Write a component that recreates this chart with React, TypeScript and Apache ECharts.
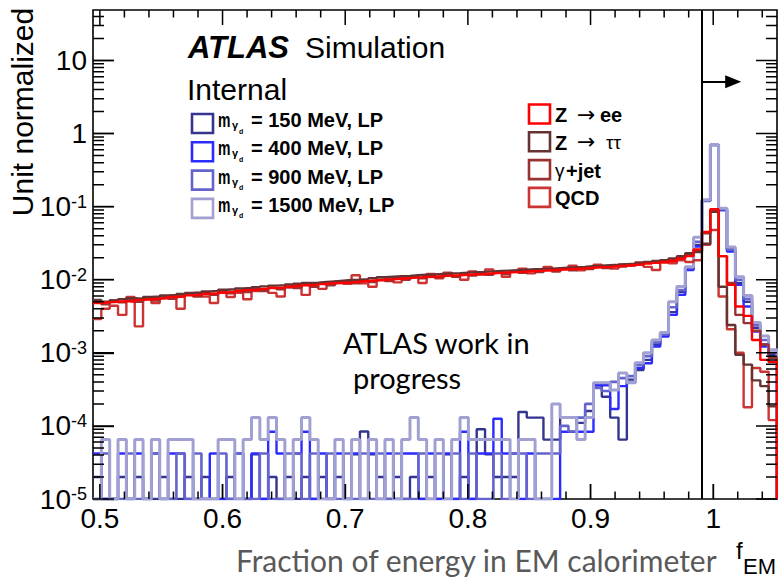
import React, { useEffect, useRef } from "react";
import * as echarts from "echarts";

// ---- axis / binning ----
const X_MIN = 0.4944;
const BIN_WIDTH = 0.0068;
const X_MAX = 1.052;
const Y_MIN = 1e-5;
const Y_MAX = 49;
const CUT = 0.9908;

const xTickLabels = [0.5, 0.6, 0.7, 0.8, 0.9, 1.0];
const yTickLabels = [1e-5, 1e-4, 1e-3, 1e-2, 1e-1, 1, 10];

// ---- signal: m_gamma_d = 150 MeV (dark blue) ----
const sig150 = [
  2.0e-5, 0, 0, 2.0e-5, 0, 2.0e-5, 0, 0, 2.0e-5, 0,
  0, 2.0e-5, 0, 2.0e-5, 0, 0, 2.0e-5, 0, 0, 4.1e-5,
  0, 2.0e-5, 0, 2.0e-5, 0, 2.0e-5, 0, 2.0e-5, 0, 2.0e-5,
  0, 4.1e-5, 8.4e-5, 4.1e-5, 2.0e-5, 0, 2.0e-5, 0, 2.0e-5, 0,
  2.0e-5, 0, 4.1e-5, 0, 2.0e-5, 0, 9.0e-5, 4.1e-5, 2.0e-5, 2.0e-5,
  2.0e-5, 1.55e-4, 1.3e-4, 1.3e-4, 6.5e-5, 6.5e-5, 1.3e-4, 1.3e-4, 1.1e-4, 1.6e-4,
  3.6e-4, 2.5e-4, 1.3e-4, 6.5e-5, 4.3e-4, 5.8e-4, 8.0e-4, 1.3e-3, 1.8e-3, 3.6e-3,
  6.8e-3, 1.4e-2, 3.0e-2, 0.12, 0.70, 0.09, 0.026, 9.0e-3, 5.0e-3, 2.2e-3,
  1.3e-3, 9.5e-4,
];

// ---- signal: 400 MeV (blue) ----
const sig400 = [
  4.2e-5, 0, 0, 4.2e-5, 0, 4.2e-5, 0, 4.2e-5, 0, 4.2e-5,
  4.2e-5, 0, 0, 0, 4.2e-5, 0, 0, 4.2e-5, 0, 4.2e-5,
  0, 8.3e-5, 4.2e-5, 0, 4.2e-5, 8.3e-5, 0, 4.2e-5, 0, 4.2e-5,
  0, 4.2e-5, 0, 4.2e-5, 0, 4.2e-5, 0, 4.2e-5, 4.2e-5, 0,
  4.2e-5, 0, 4.2e-5, 0, 8.3e-5, 0, 4.2e-5, 4.2e-5, 1.25e-4, 4.2e-5,
  4.2e-5, 0, 4.2e-5, 0, 0, 0, 8.3e-5, 8.3e-5, 8.3e-5, 8.3e-5,
  3.6e-4, 3.6e-4, 1.7e-4, 3.5e-4, 3.9e-4, 6.2e-4, 7.2e-4, 1.22e-3, 1.67e-3, 3.3e-3,
  6.2e-3, 1.36e-2, 2.85e-2, 0.12, 0.70, 0.09, 0.0243, 8.5e-3, 4.3e-3, 1.95e-3,
  1.22e-3, 8.9e-4,
];

// ---- signal: 900 MeV (medium blue) ----
const sig900 = [
  0, 4.2e-5, 0, 0, 4.2e-5, 0, 0, 4.2e-5, 0, 0,
  4.2e-5, 0, 4.2e-5, 0, 0, 4.2e-5, 0, 4.2e-5, 0, 0,
  4.2e-5, 0, 0, 4.2e-5, 4.2e-5, 0, 4.2e-5, 0, 4.2e-5, 0,
  4.2e-5, 0, 4.2e-5, 0, 4.2e-5, 0, 4.2e-5, 0, 0, 4.2e-5,
  0, 4.2e-5, 0, 4.2e-5, 0, 4.2e-5, 0, 0, 4.2e-5, 0,
  4.2e-5, 4.2e-5, 0, 4.2e-5, 4.2e-5, 4.2e-5, 1.0e-4, 8.4e-5, 1.3e-4, 2.0e-4,
  3.3e-4, 3.0e-4, 4.0e-4, 4.5e-4, 4.8e-4, 6.8e-4, 9.0e-4, 1.4e-3, 1.8e-3, 4.2e-3,
  7.2e-3, 1.45e-2, 3.3e-2, 0.12, 0.69, 0.092, 0.026, 1.0e-2, 5.5e-3, 2.4e-3,
  1.5e-3, 1.0e-3,
];

// ---- signal: 1500 MeV (light blue) ----
const sig1500 = [
  0, 6.5e-5, 0, 6.5e-5, 0, 6.5e-5, 0, 6.5e-5, 0, 6.5e-5,
  6.5e-5, 6.5e-5, 0, 0, 0, 6.5e-5, 6.5e-5, 0, 6.5e-5, 1.3e-4,
  6.5e-5, 1.3e-4, 6.5e-5, 0, 6.5e-5, 1.3e-4, 6.5e-5, 0, 0, 6.5e-5,
  0, 6.5e-5, 0, 6.5e-5, 0, 6.5e-5, 0, 6.5e-5, 1.3e-4, 6.5e-5,
  0, 6.5e-5, 0, 6.5e-5, 1.3e-4, 6.5e-5, 6.5e-5, 6.5e-5, 6.5e-5, 6.5e-5,
  0, 6.5e-5, 6.5e-5, 0, 0, 2.0e-4, 1.3e-4, 1.3e-4, 6.5e-5, 1.3e-4,
  3.9e-4, 3.9e-4, 3.1e-4, 5.3e-4, 3.9e-4, 7.3e-4, 1.0e-3, 1.5e-3, 1.9e-3, 5.0e-3,
  8.1e-3, 1.5e-2, 3.8e-2, 0.124, 0.70, 0.095, 0.028, 0.011, 6.1e-3, 2.6e-3,
  1.7e-3, 1.1e-3,
];

// ---- backgrounds ----
const zee = [
  4.8e-3, 4.9e-3, 5.0e-3, 5.1e-3, 5.0e-3, 5.3e-3, 5.4e-3, 5.5e-3, 5.6e-3, 5.8e-3,
  5.9e-3, 6.1e-3, 6.2e-3, 6.4e-3, 6.5e-3, 6.7e-3, 6.8e-3, 7.0e-3, 7.2e-3, 7.3e-3,
  7.5e-3, 7.7e-3, 7.8e-3, 8.0e-3, 8.2e-3, 8.4e-3, 8.5e-3, 8.7e-3, 8.9e-3, 9.1e-3,
  9.2e-3, 9.4e-3, 9.6e-3, 9.8e-3, 1.0e-2, 1.01e-2, 1.03e-2, 1.05e-2, 1.07e-2, 1.09e-2,
  1.1e-2, 1.12e-2, 1.14e-2, 1.15e-2, 1.17e-2, 1.19e-2, 1.2e-2, 1.22e-2, 1.24e-2, 1.26e-2,
  1.27e-2, 1.29e-2, 1.31e-2, 1.33e-2, 1.35e-2, 1.37e-2, 1.39e-2, 1.41e-2, 1.43e-2, 1.46e-2,
  1.48e-2, 1.5e-2, 1.53e-2, 1.56e-2, 1.59e-2, 1.62e-2, 1.66e-2, 1.7e-2, 1.75e-2, 1.82e-2,
  1.95e-2, 2.1e-2, 2.6e-2, 4.5e-2, 9.2e-2, 2.1e-2, 8.5e-3, 4.3e-3, 3.2e-3, 1.5e-3,
  8.0e-4, 7.5e-4,
];

const ztautau = [
  5.3e-3, 5.0e-3, 5.2e-3, 5.4e-3, 5.6e-3, 5.5e-3, 5.8e-3, 5.9e-3, 6.1e-3, 6.2e-3,
  6.4e-3, 6.6e-3, 6.7e-3, 6.9e-3, 7.0e-3, 7.3e-3, 7.4e-3, 7.6e-3, 7.7e-3, 7.9e-3,
  8.1e-3, 8.3e-3, 8.4e-3, 8.6e-3, 8.8e-3, 9.0e-3, 9.1e-3, 9.3e-3, 9.5e-3, 9.7e-3,
  9.9e-3, 1.0e-2, 1.02e-2, 1.05e-2, 1.08e-2, 1.1e-2, 1.12e-2, 1.13e-2, 1.15e-2, 1.17e-2,
  1.18e-2, 1.2e-2, 1.22e-2, 1.23e-2, 1.25e-2, 1.27e-2, 1.28e-2, 1.3e-2, 1.32e-2, 1.33e-2,
  1.35e-2, 1.37e-2, 1.39e-2, 1.4e-2, 1.42e-2, 1.44e-2, 1.46e-2, 1.48e-2, 1.5e-2, 1.53e-2,
  1.55e-2, 1.58e-2, 1.6e-2, 1.63e-2, 1.66e-2, 1.7e-2, 1.75e-2, 1.8e-2, 1.85e-2, 1.95e-2,
  2.1e-2, 2.3e-2, 2.4e-2, 3.1e-2, 8.5e-2, 8.0e-3, 2.4e-3, 9.4e-4, 6.9e-4, 4.2e-4,
  3.5e-4, 1.86e-4,
];

const gammajet = [
  5.0e-3, 4.6e-3, 5.2e-3, 4.9e-3, 5.3e-3, 5.0e-3, 5.6e-3, 5.2e-3, 5.8e-3, 5.5e-3,
  6.0e-3, 6.3e-3, 5.9e-3, 6.6e-3, 6.2e-3, 6.9e-3, 6.5e-3, 7.1e-3, 6.8e-3, 7.4e-3,
  7.0e-3, 7.8e-3, 7.4e-3, 8.1e-3, 7.7e-3, 8.5e-3, 8.0e-3, 8.8e-3, 8.4e-3, 9.0e-3,
  9.4e-3, 8.9e-3, 9.7e-3, 9.3e-3, 1.0e-2, 9.6e-3, 1.06e-2, 1.0e-2, 1.1e-2, 1.05e-2,
  1.12e-2, 1.08e-2, 1.16e-2, 1.1e-2, 1.18e-2, 1.14e-2, 1.22e-2, 1.17e-2, 1.25e-2, 1.2e-2,
  1.28e-2, 1.24e-2, 1.32e-2, 1.27e-2, 1.36e-2, 1.3e-2, 1.4e-2, 1.35e-2, 1.44e-2, 1.4e-2,
  1.5e-2, 1.45e-2, 1.56e-2, 1.52e-2, 1.62e-2, 1.6e-2, 1.7e-2, 1.75e-2, 1.85e-2, 1.9e-2,
  2.0e-2, 2.2e-2, 2.5e-2, 4.3e-2, 8.8e-2, 2.1e-2, 9.0e-3, 3.3e-3, 2.55e-3, 2.0e-3,
  1.3e-3, 8.5e-4,
];

const qcd = [
  2.9e-3, 4.0e-3, 4.4e-3, 3.3e-3, 5.8e-3, 2.3e-3, 5.4e-3, 4.8e-3, 5.6e-3, 5.9e-3,
  4.0e-3, 6.2e-3, 6.6e-3, 5.9e-3, 4.8e-3, 6.6e-3, 5.8e-3, 6.6e-3, 5.4e-3, 7.0e-3,
  7.4e-3, 6.6e-3, 5.9e-3, 7.8e-3, 8.1e-3, 6.2e-3, 8.2e-3, 7.5e-3, 8.9e-3, 9.5e-3,
  8.8e-3, 1.15e-2, 8.9e-3, 8.0e-3, 9.8e-3, 1.05e-2, 9.2e-3, 1.1e-2, 1.12e-2, 9.0e-3,
  1.2e-2, 1.05e-2, 1.25e-2, 1.12e-2, 1.0e-2, 1.3e-2, 1.18e-2, 1.38e-2, 1.25e-2, 1.1e-2,
  1.32e-2, 1.42e-2, 1.22e-2, 1.35e-2, 1.5e-2, 1.3e-2, 1.42e-2, 1.55e-2, 1.35e-2, 1.5e-2,
  1.6e-2, 1.5e-2, 1.42e-2, 1.62e-2, 1.55e-2, 1.72e-2, 1.5e-2, 1.36e-2, 1.72e-2, 1.68e-2,
  1.85e-2, 1.75e-2, 1.85e-2, 3.0e-2, 4.8e-2, 5.9e-3, 2.1e-3, 1.0e-3, 1.8e-4, 6.2e-4,
  5.5e-4, 1.2e-4,
];

const sigLabels = ["150", "400", "900", "1500"];
const sigColors = ["#35358f", "#2b2bff", "#6464cc", "#a0a0d2"];
const bkgColors = ["#ff0000", "#663333", "#993333", "#cc3333"];

const FONT = '"Liberation Sans", Arial, Helvetica, sans-serif';
const CAL = 'Lato, "Open Sans", sans-serif';

const CHART_W = 778;
const CHART_H = 579;
const GRID = { left: 93, right: 1, top: 10, bottom: 80 };
const PX_PER_X = (CHART_W - GRID.left - GRID.right) / (X_MAX - X_MIN);
const PX_PER_DECADE = (CHART_H - GRID.top - GRID.bottom) / Math.log10(Y_MAX / Y_MIN);

function histPoints(values: number[]) {
  const pts: number[][] = [];
  for (let i = 0; i < values.length; i++) {
    pts.push([X_MIN + i * BIN_WIDTH, values[i] > 0 ? values[i] : Y_MIN]);
  }
  const last = values[values.length - 1] > 0 ? values[values.length - 1] : Y_MIN;
  pts.push([X_MIN + values.length * BIN_WIDTH, last]);
  pts.push([X_MIN + values.length * BIN_WIDTH, Y_MIN]);
  return pts;
}

function histSeries(name: string, values: number[], color: string, width: number, extra: any = {}) {
  return {
    name,
    type: "line",
    step: "end",
    data: histPoints(values),
    symbol: "none",
    showSymbol: false,
    clip: true,
    silent: true,
    lineStyle: { color, width },
    ...extra,
  };
}

// tick positions (axis furniture)
const yMinorTicks: number[] = [];
for (let e = -5; e <= 1; e++) {
  for (let m = 2; m <= 9; m++) {
    const v = m * Math.pow(10, e);
    if (v < Y_MAX) yMinorTicks.push(v);
  }
}
const xMinorTicks: number[] = [];
for (let k = 0; k <= 27; k++) {
  const v = 0.5 + k * 0.02;
  if (k % 5 !== 0 && v < X_MAX) xMinorTicks.push(v);
}

// tick marks drawn as a broken line series in data space
function tickSeriesData() {
  const d: any[] = [];
  const seg = (a: number[], b: number[]) => {
    d.push(a, b, [b[0], "-"]);
  };
  const addY = (v: number, len: number) => {
    const dx = len / PX_PER_X;
    seg([X_MIN, v], [X_MIN + dx, v]);
    seg([X_MAX - dx, v], [X_MAX, v]);
  };
  const addX = (v: number, len: number) => {
    const f = Math.pow(10, len / PX_PER_DECADE);
    seg([v, Y_MIN * 1.0001], [v, Y_MIN * f]);
    seg([v, Y_MAX / f], [v, Y_MAX * 0.9999]);
  };
  yTickLabels.forEach((v) => addY(v, 21));
  yMinorTicks.forEach((v) => addY(v, 11));
  xTickLabels.forEach((v) => addX(v, 15));
  xMinorTicks.forEach((v) => addX(v, 7.5));
  return d;
}

function legendGraphics() {
  const g: any[] = [];
  sigLabels.forEach((lab, i) => {
    const yc = 120 + i * 28.3;
    g.push({
      type: "rect",
      shape: { x: 192, y: yc - 6, width: 21, height: 19 },
      style: { fill: "rgba(0,0,0,0)", stroke: sigColors[i], lineWidth: 2.6 },
    });
    g.push({ type: "text", x: 218, y: yc, scaleX: 0.7, style: { text: "m", fontFamily: FONT, fontWeight: "bold", fontSize: 20, fill: "#000", verticalAlign: "middle" } });
    g.push({ type: "text", x: 232, y: yc + 5, style: { text: "\u03b3", fontFamily: FONT, fontWeight: "bold", fontSize: 11, fill: "#000", verticalAlign: "middle" } });
    g.push({ type: "text", x: 239, y: yc + 11, style: { text: "d", fontFamily: FONT, fontWeight: "bold", fontSize: 7, fill: "#000", verticalAlign: "middle" } });
    g.push({ type: "text", x: 251, y: yc, style: { text: "= " + lab + " MeV, LP", fontFamily: FONT, fontWeight: "bold", fontSize: 20, fill: "#000", verticalAlign: "middle" } });
  });
  const rows: any[] = [
    [["Z", 555, "b"], ["\u2192", 577, "a"], ["ee", 600, "b"]],
    [["Z", 555, "b"], ["\u2192", 577, "a"], ["\u03c4\u03c4", 606, "g"]],
    [["\u03b3", 555, "g"], ["+jet", 566, "b"]],
    [["QCD", 555, "b"]],
  ];
  rows.forEach((parts: any[], i: number) => {
    const yc = 115 + i * 27.8;
    g.push({
      type: "rect",
      shape: { x: 529, y: yc - 10.5, width: 21, height: 19 },
      style: { fill: "rgba(0,0,0,0)", stroke: bkgColors[i], lineWidth: 2.6 },
    });
    parts.forEach((p: any[]) => {
      const kind = p[2];
      g.push({
        type: "text",
        x: p[1],
        y: kind === "a" ? yc - 1 : yc,
        style: {
          text: p[0],
          fontFamily: kind === "a" ? '"DejaVu Sans", sans-serif' : FONT,
          fontWeight: kind === "b" ? "bold" : "normal",
          fontSize: kind === "b" ? 20 : kind === "a" ? 22 : 19,
          fill: "#000",
          verticalAlign: "middle",
        },
      });
    });
  });
  return g;
}

function baseGraphics() {
  return [
    { type: "text", x: 188, y: 47, style: { text: "ATLAS", fontFamily: FONT, fontWeight: "bold", fontStyle: "italic", fontSize: 31, fill: "#000", verticalAlign: "middle" } },
    { type: "text", x: 305, y: 47, style: { text: "Simulation", fontFamily: FONT, fontSize: 30, fill: "#000", verticalAlign: "middle" } },
    { type: "text", x: 187, y: 89, style: { text: "Internal", fontFamily: FONT, fontSize: 30, fill: "#000", verticalAlign: "middle" } },
    ...legendGraphics(),
    { type: "text", x: 343, y: 342, style: { text: "ATLAS work in", fontFamily: CAL, fontSize: 29, fill: "#000", verticalAlign: "middle" } },
    { type: "text", x: 353, y: 377, style: { text: "progress", fontFamily: CAL, fontSize: 29, fill: "#000", verticalAlign: "middle" } },
    { type: "text", x: 236, y: 560, style: { text: "Fraction of energy in EM calorimeter", fontFamily: CAL, fontSize: 30, fill: "#595959", verticalAlign: "middle" } },
    { type: "text", x: 736, y: 550, style: { text: "f", fontFamily: FONT, fontSize: 24, fill: "#000", verticalAlign: "middle" } },
    { type: "text", x: 743, y: 566, style: { text: "EM", fontFamily: FONT, fontSize: 22, fill: "#000", verticalAlign: "middle" } },
    { type: "text", x: 22, y: 112, rotation: Math.PI / 2, style: { text: "Unit normalized", fontFamily: FONT, fontSize: 30, fill: "#000", align: "center", verticalAlign: "middle" } },
  ];
}

function buildOption() {
  return {
    animation: false,
    backgroundColor: "#ffffff",
    grid: {
      ...GRID,
      show: true,
      borderColor: "#000",
      borderWidth: 1.6,
      backgroundColor: "transparent",
    },
    xAxis: {
      type: "value",
      min: X_MIN,
      max: X_MAX,
      axisLine: { show: false },
      splitLine: { show: false },
      axisTick: { show: true, inside: true, length: 15, customValues: xTickLabels, lineStyle: { color: "#000", width: 1.4 } },
      axisLabel: {
        customValues: xTickLabels,
        formatter: (v: number) => (Math.abs(v - 1) < 1e-9 ? "1" : v.toFixed(1)),
        fontFamily: FONT,
        fontSize: 28,
        color: "#000",
        margin: 5,
      },
    },
    yAxis: {
      type: "log",
      logBase: 10,
      min: Y_MIN,
      max: Y_MAX,
      axisLine: { show: false },
      splitLine: { show: false },
      minorTick: { show: false },
      axisTick: { show: true, inside: true, length: 21, lineStyle: { color: "#000", width: 1.4 } },
      axisLabel: {
        showMaxLabel: false,
        margin: 6,
        formatter: (v: number) => {
          const e = Math.round(Math.log10(v));
          if (e === 0) return "{b|1}";
          if (e === 1) return "{b|10}";
          return "{b|10}{s|" + e + "}";
        },
        rich: {
          b: { fontFamily: FONT, fontSize: 28, color: "#000", lineHeight: 28, verticalAlign: "bottom" },
          s: { fontFamily: FONT, fontSize: 18, color: "#000", lineHeight: 18, verticalAlign: "top", padding: [0, 0, 16, 0] },
        },
      },
    },
    series: [
      histSeries("m = 150 MeV, LP", sig150, sigColors[0], 2.4),
      histSeries("m = 400 MeV, LP", sig400, sigColors[1], 2.4),
      histSeries("m = 900 MeV, LP", sig900, sigColors[2], 2.6),
      histSeries("m = 1500 MeV, LP", sig1500, sigColors[3], 3),
      histSeries("QCD", qcd, bkgColors[3], 2.4),
      histSeries("gamma+jet", gammajet, bkgColors[2], 2.4),
      histSeries("Z->tautau", ztautau, bkgColors[1], 2.4),
      histSeries("Z->ee", zee, bkgColors[0], 2.4, {
        markLine: {
          silent: true,
          animation: false,
          label: { show: false },
          symbol: "none",
          data: [
            [
              { coord: [CUT, Y_MIN], symbol: "none" },
              { coord: [CUT, Y_MAX], symbol: "none" },
            ],
            [
              { coord: [CUT, 5.1], symbol: "none" },
              { coord: [1.0163, 5.1], symbol: "triangle", symbolSize: [13, 16] },
            ],
          ],
          lineStyle: { color: "#000", width: 2, type: "solid" },
          itemStyle: { color: "#000" },
        },
      }),
      {
        name: "axis ticks",
        type: "line",
        data: tickSeriesData(),
        symbol: "none",
        showSymbol: false,
        connectNulls: false,
        clip: false,
        silent: true,
        lineStyle: { color: "#000", width: 1.5 },
        z: 5,
      },
    ],
    graphic: baseGraphics(),
  };
}

export default function App() {
  const ref = useRef<HTMLDivElement>(null);
  useEffect(() => {
    if (!ref.current) return;
    const chart = echarts.init(ref.current, null, { renderer: "svg" });
    chart.setOption(buildOption() as any);
    return () => chart.dispose();
  }, []);
  return (
    <div
      ref={ref}
      style={{ position: "absolute", left: 0, top: 0, width: CHART_W, height: CHART_H, background: "#fff" }}
    />
  );
}
